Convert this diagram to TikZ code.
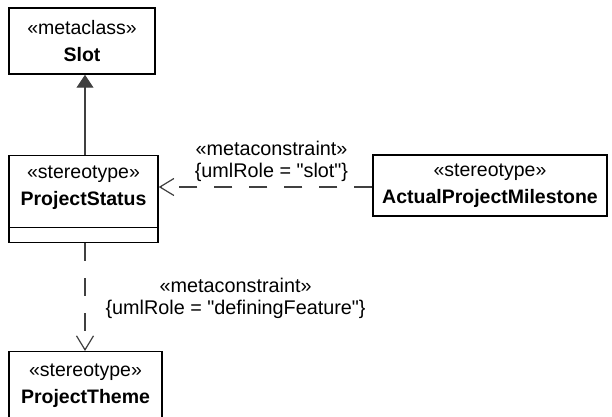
\documentclass[tikz,border=0pt]{standalone}
\usepackage{fontspec}
\setmainfont{Liberation Sans}
\usepackage{xcolor}
\usepackage{tikz}
\usetikzlibrary{arrows.meta,calc,positioning}
\definecolor{linegray}{HTML}{404040}
\tikzset{
  umlbox/.style={draw=black, line width=0.75pt, fill=white, align=center, inner sep=0pt,
    font=\fontsize{9.75}{13.5}\selectfont},
  umllabel/.style={text=black, align=center, inner sep=0pt, font=\fontsize{9.9}{11}\selectfont},
  generalization/.style={linegray, line width=0.6pt, -{Triangle[length=6.5pt,width=8.5pt]}},
  dependency/.style={linegray, line width=0.6pt, dash pattern=on 9pt off 8.5pt,
    -{Straight Barb[length=7pt,width=8.5pt]}}
}
\newcommand{\qt}{\textquotedbl}

\begin{document}
\begin{tikzpicture}[x=0.5pt, y=-0.5pt]
  \useasboundingbox (0,0) rectangle (612,417);
  \clip (0,0) rectangle (612,417);
  \fill[white] (0,0) rectangle (612,417);
  % classes
  \node[umlbox, minimum width=73pt, minimum height=33pt] (slot) at (82,41)
    {«metaclass»\\\textbf{Slot}};
  \node[umlbox, anchor=north, minimum width=74.5pt, minimum height=43.5pt, text depth=14pt] (status) at (83.5,155)
    {«stereotype»\\\textbf{ProjectStatus}};
  \draw[line width=0.75pt] ([yshift=8pt]status.south west) -- ([yshift=8pt]status.south east);
  \node[umlbox, minimum width=117pt, minimum height=30.5pt] (milestone) at (490,185.5)
    {«stereotype»\\\textbf{ActualProjectMilestone}};
  \node[umlbox, anchor=north, minimum width=76.5pt, minimum height=35.5pt, text depth=4pt] (theme) at (85.5,351)
    {«stereotype»\\\textbf{ProjectTheme}};
  % relations
  \draw[generalization] ($(status.north)+(1.5,0)$) -- ($(status.north |- slot.south)+(1.5,0)$);
  \draw[dependency] ($(milestone.west)+(0,1.5)$) -- ($(milestone.west -| status.east)+(0,1.5)$)
    node[umllabel, midway, above=2.5pt, xshift=3pt] (slotrole) {«metaconstraint»\\\{umlRole = \qt slot\qt\}};
  \draw[dependency] ($(status.south)+(1.5,0)$) -- ($(status.south |- theme.north)+(1.5,0)$)
    node[umllabel, midway, right=10pt, yshift=-0.5pt] (featrole) {«metaconstraint»\\\{umlRole = \qt definingFeature\qt\}};
\end{tikzpicture}
\end{document}
